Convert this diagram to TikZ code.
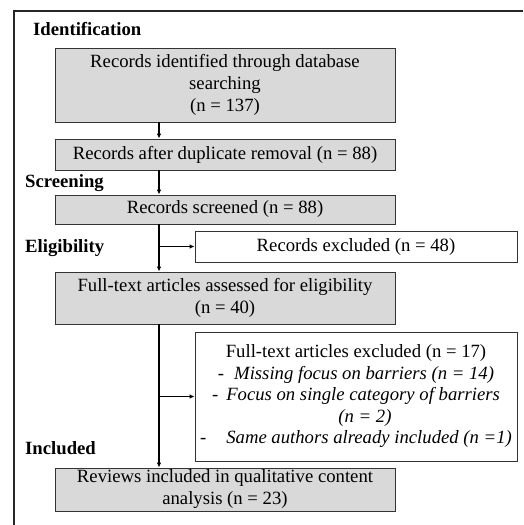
\documentclass[tikz,border=0pt]{standalone}
\usepackage{fontspec}
\setmainfont{Liberation Serif}
\usetikzlibrary{arrows.meta}
\definecolor{boxgray}{HTML}{D9D9D9}
\begin{document}
\begin{tikzpicture}[x=1pt,y=-1pt,
  font=\fontsize{18.7}{22}\selectfont,
  graybox/.style={draw=black!80, line width=0.8pt, fill=boxgray, rectangle, inner sep=0pt, align=center},
  whitebox/.style={draw=black!80, line width=0.8pt, fill=white, rectangle, inner sep=0pt, align=center},
  phase/.style={anchor=west, inner sep=0pt, font=\fontsize{18.7}{22}\selectfont\bfseries},
  arr/.style={line width=1.3pt, -{Latex[length=5pt,width=4.5pt]}}]
\useasboundingbox (0,0) rectangle (523,525);
% outer frame (top and left edges visible)
\draw[line width=1.4pt, black!85] (523,11) -| (14,525);
% phase labels
\node[phase] (lid) at (33,29) {Identification};
\node[phase] (lsc) at (25,183) {Screening};
\node[phase] (lel) at (25,248) {Eligibility};
\node[phase] (lin) at (25,448) {Included};
% main boxes
\node[graybox, minimum width=340pt, minimum height=74pt] (b1) at (225,85)
  {Records identified through database\\ searching\\ (n = 137)};
\node[graybox, minimum width=340pt, minimum height=31pt] (b2) at (225,154.5)
  {Records after duplicate removal (n = 88)};
\node[graybox, minimum width=340pt, minimum height=29pt] (b3) at (225,209.5)
  {Records screened (n = 88)};
\node[graybox, minimum width=340pt, minimum height=52pt] (b4) at (225,298)
  {Full-text articles assessed for eligibility\\ (n = 40)};
\node[graybox, minimum width=340pt, minimum height=43pt] (b6) at (225,489.5)
  {Reviews included in qualitative content\\ analysis (n = 23)};
% exclusion boxes
\node[whitebox, minimum width=322pt, minimum height=31pt] (e1) at (356,246.5)
  {Records excluded (n = 48)};
\node[whitebox, minimum width=322pt, minimum height=129pt,
      font=\fontsize{18.7}{21.5}\selectfont] (e2) at (356,396.5)
  {Full-text articles excluded (n = 17)\\
   -\hspace{10pt}\textit{Missing focus on barriers (n = 14)}\\
   -\hspace{8pt}\textit{Focus on single category of barriers}\\
   \hspace*{18pt}\textit{(n = 2)}\\
   -\hspace{20pt}\textit{Same authors already included (n =1)}};
% spine
\coordinate (sp) at (159,0);
\draw[arr] (b1.south -| sp) -- (b2.north -| sp);
\draw[arr] (b2.south -| sp) -- (b3.north -| sp);
\draw[arr] (b3.south -| sp) -- (b4.north -| sp);
\draw[arr] (b4.south -| sp) -- (b6.north -| sp);
\draw[arr] (e1.west -| sp) -- (e1.west);
\draw[arr] (e2.west -| sp) -- (e2.west);
\end{tikzpicture}
\end{document}
